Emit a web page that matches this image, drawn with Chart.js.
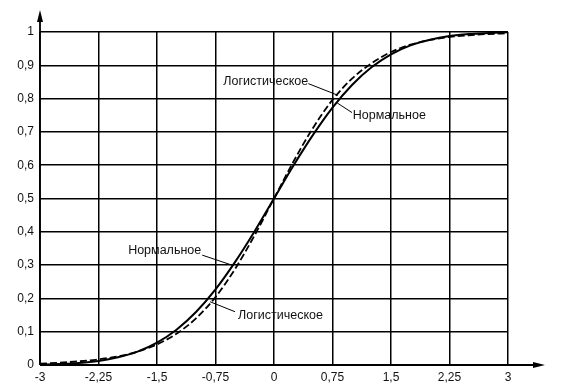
<!DOCTYPE html>
<html>
<head>
<meta charset="utf-8">
<title>Нормальное и логистическое распределение</title>
<script src="https://cdn.jsdelivr.net/npm/chart.js@4"></script>
<style>
  body { margin: 0; background: #fff; }
  canvas { display: block; }
</style>
</head>
<body>
<canvas id="grafico" width="566" height="386"></canvas>
<script>
// values, step 0.25 on x
const xs = [-3, -2.75, -2.5, -2.25, -2, -1.75, -1.5, -1.25, -1, -0.75, -0.5, -0.25, 0,
            0.25, 0.5, 0.75, 1, 1.25, 1.5, 1.75, 2, 2.25, 2.5, 2.75, 3];
const normalnoe = [0.001, 0.003, 0.006, 0.012, 0.023, 0.040, 0.067, 0.106, 0.159, 0.227, 0.309, 0.401, 0.5,
                   0.599, 0.691, 0.773, 0.841, 0.894, 0.933, 0.960, 0.977, 0.988, 0.994, 0.997, 0.999];
const logisticheskoe = [0.004, 0.007, 0.011, 0.017, 0.026, 0.040, 0.062, 0.094, 0.140, 0.204, 0.288, 0.389, 0.5,
                        0.611, 0.712, 0.796, 0.860, 0.906, 0.940, 0.962, 0.976, 0.985, 0.990, 0.994, 0.996];
const xTicks = [-3, -2.25, -1.5, -0.75, 0, 0.75, 1.5, 2.25, 3];
const yTicks = [0, 0.1, 0.2, 0.3, 0.4, 0.5, 0.6, 0.7, 0.8, 0.9, 1];

// labels with leader lines (data units)
const notes = [
  { text: 'Логистическое', tx: -0.65, ty: 0.85, fx: 0.44, fy: 0.845, ex: 0.82, ey: 0.81 },
  { text: 'Нормальное', tx: 1.01, ty: 0.75, fx: 0.81, fy: 0.787, ex: 1.0, ey: 0.758 },
  { text: 'Нормальное', tx: -1.87, ty: 0.345, fx: -0.92, fy: 0.33, ex: -0.54, ey: 0.3 },
  { text: 'Логистическое', tx: -0.46, ty: 0.15, fx: -0.82, fy: 0.19, ex: -0.5, ey: 0.16 }
];

const font = "'Liberation Sans', Arial, sans-serif";
const comma = (v) => String(Math.round(v * 100) / 100).replace('.', ',');

const axesPlugin = {
  id: 'axes',
  afterDraw(chart) {
    const { ctx, chartArea: a } = chart;
    ctx.save();
    ctx.strokeStyle = '#000';
    ctx.fillStyle = '#000';
    ctx.lineWidth = 1.8;
    ctx.beginPath();
    ctx.moveTo(a.left, a.bottom);
    ctx.lineTo(a.left, a.top - 18);
    ctx.moveTo(a.left, a.bottom);
    ctx.lineTo(a.right + 32, a.bottom);
    ctx.stroke();
    // arrow heads
    ctx.beginPath();
    ctx.moveTo(a.left, a.top - 22);
    ctx.lineTo(a.left - 3, a.top - 10);
    ctx.lineTo(a.left + 3, a.top - 10);
    ctx.closePath();
    ctx.fill();
    ctx.beginPath();
    ctx.moveTo(a.right + 37, a.bottom);
    ctx.lineTo(a.right + 25, a.bottom - 3);
    ctx.lineTo(a.right + 25, a.bottom + 3);
    ctx.closePath();
    ctx.fill();

    // labels
    const sx = chart.scales.x, sy = chart.scales.y;
    ctx.lineWidth = 1;
    ctx.font = '12.5px ' + font;
    ctx.fillStyle = '#111';
    ctx.textBaseline = 'middle';
    ctx.textAlign = 'left';
    notes.forEach(n => {
      ctx.beginPath();
      ctx.moveTo(sx.getPixelForValue(n.fx), sy.getPixelForValue(n.fy));
      ctx.lineTo(sx.getPixelForValue(n.ex), sy.getPixelForValue(n.ey));
      ctx.stroke();
      ctx.fillText(n.text, sx.getPixelForValue(n.tx), sy.getPixelForValue(n.ty));
    });
    ctx.restore();
  }
};

new Chart(document.getElementById('grafico'), {
  type: 'line',
  data: {
    datasets: [
      {
        label: 'Нормальное',
        data: xs.map((x, i) => ({ x: x, y: normalnoe[i] })),
        borderColor: '#000',
        borderWidth: 2,
        pointRadius: 0,
        cubicInterpolationMode: 'monotone'
      },
      {
        label: 'Логистическое',
        data: xs.map((x, i) => ({ x: x, y: logisticheskoe[i] })),
        borderColor: '#000',
        borderWidth: 1.8,
        borderDash: [7, 3],
        pointRadius: 0,
        cubicInterpolationMode: 'monotone'
      }
    ]
  },
  options: {
    responsive: false,
    animation: false,
    layout: { padding: { top: 32, right: 58, left: 0, bottom: 0 } },
    plugins: { legend: { display: false }, tooltip: { enabled: false } },
    scales: {
      x: {
        type: 'linear',
        min: -3,
        max: 3,
        afterFit: (s) => { s.height = 21; },
        afterBuildTicks: (s) => { s.ticks = xTicks.map(v => ({ value: v })); },
        grid: { color: '#000', lineWidth: 1.5, drawTicks: false },
        border: { display: false },
        ticks: {
          padding: 5,
          color: '#111',
          font: { family: font, size: 12 },
          maxRotation: 0,
          callback: (v) => comma(v)
        }
      },
      y: {
        min: 0,
        max: 1,
        afterFit: (s) => { s.width = 40; },
        afterBuildTicks: (s) => { s.ticks = yTicks.map(v => ({ value: v })); },
        grid: { color: '#000', lineWidth: 1.5, drawTicks: false },
        border: { display: false },
        ticks: {
          padding: 6,
          color: '#111',
          font: { family: font, size: 12 },
          callback: (v) => comma(v)
        }
      }
    }
  },
  plugins: [axesPlugin]
});
</script>
</body>
</html>
